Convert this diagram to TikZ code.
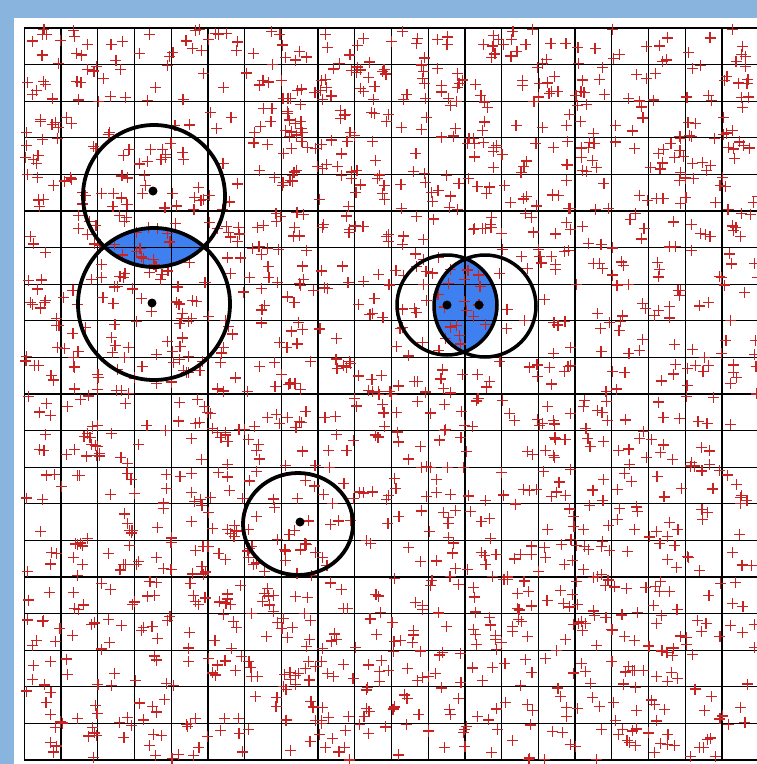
\documentclass[tikz,border=0pt]{standalone}
\definecolor{bgblue}{RGB}{137,180,222}
\definecolor{lensblue}{RGB}{62,128,240}
\definecolor{markred}{RGB}{200,35,35}
\tikzset{
  gridline/.style={black, line width=1.3pt},
  ring/.style={black, line width=3.8pt},
  centerdot/.style={fill=black},
  crossmark/.style={draw=markred, line width=1.2pt}
}
\begin{document}
\begin{tikzpicture}[x=1pt,y=-1pt]
\useasboundingbox (0,0) rectangle (757,764);
\fill[bgblue] (0,0) rectangle (757,764);
\fill[white] (14,18) rectangle (757,764);
% lens fills
\begin{scope}
  \clip (154,196) circle (71pt);
  \fill[lensblue] (154,304) circle (76pt);
\end{scope}
\begin{scope}
  \clip (447,305) circle (50pt);
  \fill[lensblue] (485,306) circle (51pt);
\end{scope}
% grid
\foreach \k in {0,...,20}{
  \draw[gridline] ({24.3+36.72*\k},28) -- ({24.3+36.72*\k},760);
  \draw[gridline] (24.3,{28+36.6*\k}) -- (758.7,{28+36.6*\k});
}
% scattered markers
\pgfmathsetseed{2718}
\foreach \i in {1,...,1700}{
  \pgfmathsetmacro\px{25+733*rnd}
  \pgfmathsetmacro\py{29+731*rnd}
  \draw[crossmark] (\px-5.5,\py) -- (\px+5.5,\py) (\px,\py-5.5) -- (\px,\py+5.5);
}
% circles
\draw[ring] (154,196) circle (71pt);
\draw[ring] (154,304) circle (76pt);
\draw[ring, line width=3.5pt] (447,305) circle (50pt);
\draw[ring, line width=3.5pt] (485,306) circle (51pt);
\draw[ring] (298,524) ellipse [x radius=55pt, y radius=51pt];
% centre dots
\fill[centerdot] (153,191) circle (4.5pt);
\fill[centerdot] (152,303) circle (4.5pt);
\fill[centerdot] (447,305) circle (4.5pt);
\fill[centerdot] (479,305) circle (4.5pt);
\fill[centerdot] (300,522) circle (4.5pt);
\end{tikzpicture}
\end{document}
